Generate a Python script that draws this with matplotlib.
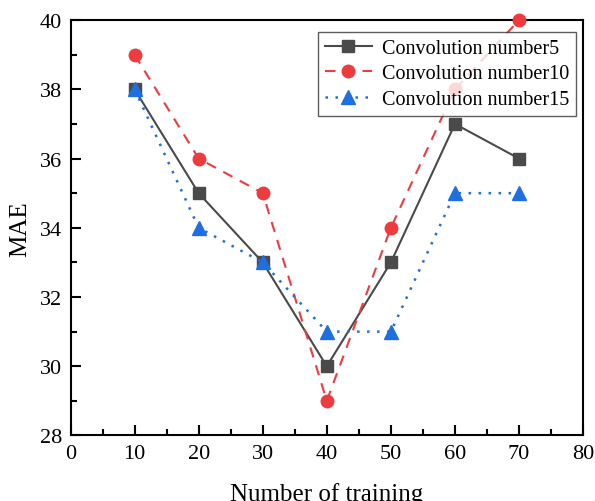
import matplotlib
matplotlib.use("Agg")
import matplotlib.pyplot as plt
from matplotlib.ticker import MultipleLocator

plt.rcParams['font.family'] = ['Liberation Serif', 'DejaVu Serif']

x = [10, 20, 30, 40, 50, 60, 70]
conv5 = [38, 35, 33, 30, 33, 37, 36]
conv10 = [39, 36, 35, 29, 34, 38, 40]
conv15 = [38, 34, 33, 31, 31, 35, 35]
labels = ["Convolution number5", "Convolution number10", "Convolution number15"]

fig = plt.figure(figsize=(5.95, 5.02), dpi=100)
ax = fig.add_axes([0.1185, 0.1305, 0.8615, 0.8275])

ax.plot(x, conv5, color='#4a4a4a', linestyle='-', linewidth=1.5, marker='s', markersize=8.5, label=labels[0], clip_on=False, zorder=3)
ax.plot(x, conv10, color='#ee3b3f', linestyle=(0, (5, 4)), linewidth=1.5, marker='o', markersize=9, label=labels[1], clip_on=False, zorder=3)
ax.plot(x, conv15, color='#1f6fe0', linestyle=(0, (1, 3)), linewidth=1.8, marker='^', markersize=9.5, label=labels[2], clip_on=False, zorder=3)

ax.set_xlim(0, 80)
ax.set_ylim(28, 40)
ax.xaxis.set_major_locator(MultipleLocator(10))
ax.xaxis.set_minor_locator(MultipleLocator(5))
ax.yaxis.set_major_locator(MultipleLocator(2))
ax.yaxis.set_minor_locator(MultipleLocator(1))
ax.tick_params(which='both', direction='in', top=False, right=False, labelsize=16, width=1.5, pad=6)
ax.tick_params(which='major', length=7)
ax.tick_params(which='minor', length=4)
for s in ax.spines.values():
    s.set_linewidth(1.5)

ax.set_xlabel("Number of training", fontsize=18, labelpad=14)
ax.set_ylabel("MAE", fontsize=18, labelpad=6)

leg = ax.legend(loc='upper right', bbox_to_anchor=(0.986, 0.971), fontsize=14.5, frameon=True, fancybox=False,
                edgecolor='#333333', handlelength=2.3, handletextpad=0.5, borderpad=0.35, labelspacing=0.3, borderaxespad=0)
leg.get_frame().set_linewidth(1.0)

fig.savefig("out.png", dpi=100)
